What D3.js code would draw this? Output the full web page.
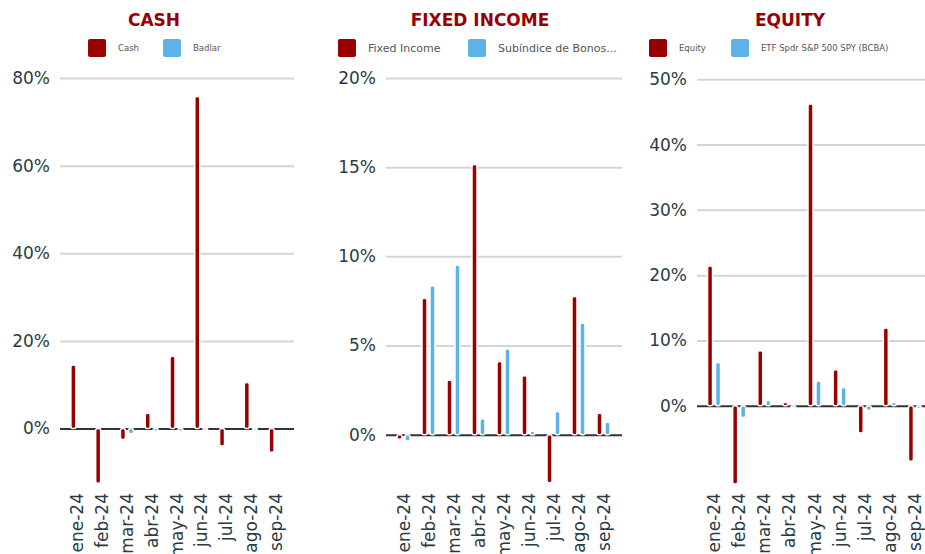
<!DOCTYPE html>
<html>
<head>
<meta charset="utf-8">
<script src="https://cdn.jsdelivr.net/npm/d3@7"></script>
<style>
  body { margin: 0; background: #fff; }
  svg { display: block; font-family: "DejaVu Sans", sans-serif; }
</style>
</head>
<body>
<div class="svg-container"></div>
<script>
// monthly returns, in %
var months = ["ene-24", "feb-24", "mar-24", "abr-24", "may-24", "jun-24", "jul-24", "ago-24", "sep-24"];

var cashValues   = [14.5, -12.5, -2.5, 3.5, 16.5, 75.8, -4.0, 10.5, -5.4];
var badlarValues = [null, null, -1.2, -0.6, -0.6, 0.1, null, 0.1, null];

var fixedIncomeValues = [-0.25, 7.65, 3.05, 15.15, 4.1, 3.3, -2.7, 7.75, 1.2];
var bonosValues       = [-0.35, 8.35, 9.5, 0.9, 4.8, 0.2, 1.3, 6.25, 0.7];

var equityValues = [21.4, -12.0, 8.4, 0.5, 46.2, 5.5, -4.2, 11.9, -8.5];
var spyValues    = [6.6, -1.8, 0.8, -0.3, 3.8, 2.8, -0.7, 0.5, -0.4];

var cashTicks = [0, 20, 40, 60, 80];
var fixedTicks = [0, 5, 10, 15, 20];
var equityTicks = [0, 10, 20, 30, 40, 50];

var seriesNames = ["main", "bench"];
var colors = { main: "#990000", bench: "#5db3e8" };

var width = 925, height = 554;

var svg = d3.select(".svg-container").append("svg")
  .attr("width", width)
  .attr("height", height);

var panels = [
  { title: "CASH", titleX: 154, names: ["Cash", "Badlar"], legendSize: 8.5,
    legendX: [88, 163], main: cashValues, bench: badlarValues, ticks: cashTicks,
    gridX: [60, 294], bandX: [65, 288], y0: 428.5, yTop: 78 },
  { title: "FIXED INCOME", titleX: 480, names: ["Fixed Income", "Subíndice de Bonos..."], legendSize: 11,
    legendX: [338, 468], main: fixedIncomeValues, bench: bonosValues, ticks: fixedTicks,
    gridX: [386, 622], bandX: [391, 616], y0: 434.7, yTop: 78 },
  { title: "EQUITY", titleX: 790, names: ["Equity", "ETF Spdr S&P 500 SPY (BCBA)"], legendSize: 8.5,
    legendX: [649, 731], main: equityValues, bench: spyValues, ticks: equityTicks,
    gridX: [697, 925], bandX: [701.5, 927.5], y0: 405.7, yTop: 79.3 }
];

panels.forEach(function(p) {
  var g = svg.append("g");
  var maxTick = d3.max(p.ticks);

  var y = d3.scaleLinear().domain([0, maxTick]).range([p.y0, p.yTop]);
  var x0 = d3.scaleBand().domain(months).range(p.bandX);
  var x1 = d3.scaleBand().domain(seriesNames).range([-8, 8]);

  // title
  g.append("text")
    .attr("x", p.titleX)
    .attr("y", 26)
    .attr("text-anchor", "middle")
    .attr("font-size", 17)
    .attr("font-weight", "bold")
    .attr("fill", "#990000")
    .text(p.title);

  // legend
  seriesNames.forEach(function(s, i) {
    g.append("rect")
      .attr("x", p.legendX[i]).attr("y", 39)
      .attr("width", 18).attr("height", 18)
      .attr("rx", 2)
      .attr("fill", colors[s]);
    g.append("text")
      .attr("x", p.legendX[i] + 30)
      .attr("y", 48)
      .attr("dy", "0.35em")
      .attr("font-size", p.legendSize)
      .attr("fill", "#555")
      .text(p.names[i]);
  });

  // gridlines + y labels
  var yAxis = d3.axisLeft(y)
    .tickValues(p.ticks)
    .tickSize(-(p.gridX[1] - p.gridX[0]))
    .tickPadding(10)
    .tickFormat(function(d) { return d + "%"; });

  var ax = g.append("g")
    .attr("transform", "translate(" + p.gridX[0] + ",0)")
    .call(yAxis);
  ax.select(".domain").remove();
  ax.selectAll(".tick line")
    .attr("stroke", function(d) { return d === 0 ? "#333" : "#d4d4d4"; })
    .attr("stroke-width", 2);
  ax.selectAll(".tick text")
    .attr("font-size", 17)
    .attr("fill", "#2b3b43")
    .attr("font-family", "DejaVu Sans, sans-serif");

  // bars
  var groups = g.selectAll(".grp")
    .data(months)
    .enter().append("g")
    .attr("class", "grp")
    .attr("transform", function(d) { return "translate(" + (x0(d) + x0.bandwidth() / 2) + ",0)"; });

  groups.selectAll("rect")
    .data(function(d, i) {
      return seriesNames.map(function(s) { return { key: s, value: p[s][i] }; })
        .filter(function(e) { return e.value !== null; });
    })
    .enter().append("rect")
    .attr("x", function(d) { return x1(d.key) + x1.bandwidth() / 2 - 2.5; })
    .attr("width", 5)
    .attr("y", function(d) { return Math.min(y(d.value), y(0)); })
    .attr("height", function(d) { return Math.max(Math.abs(y(d.value) - y(0)), 2); })
    .attr("rx", 2)
    .attr("fill", function(d) { return colors[d.key]; })
    .attr("stroke", "#fff")
    .attr("stroke-width", 1.5);

  // x labels
  g.selectAll(".xlab")
    .data(months)
    .enter().append("text")
    .attr("class", "xlab")
    .attr("transform", function(d) {
      return "translate(" + (x0(d) + x0.bandwidth() / 2 + 6) + ",493) rotate(-90)";
    })
    .attr("text-anchor", "end")
    .attr("font-size", 17)
    .attr("fill", "#2b3b43")
    .text(function(d) { return d; });
});
</script>
</body>
</html>
